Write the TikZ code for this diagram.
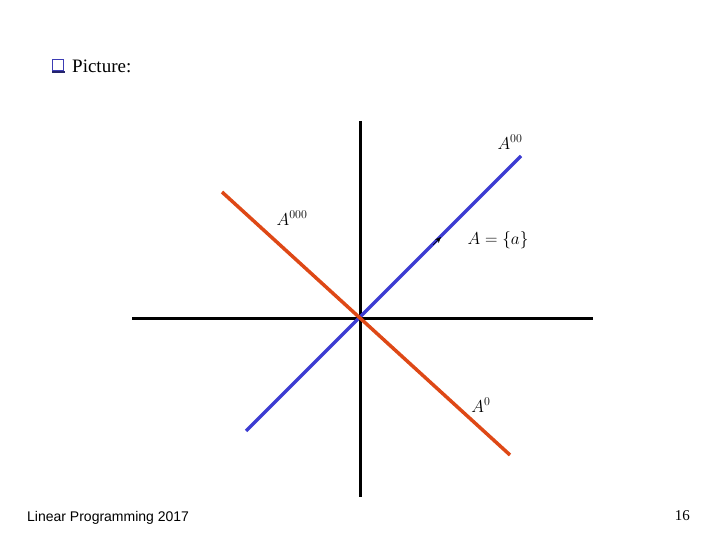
\documentclass[tikz,border=0pt]{standalone}
\usepackage{fontspec}
\setmainfont{Liberation Serif}
\newfontfamily\arialfont{Liberation Sans}
\usetikzlibrary{arrows.meta}
\definecolor{lineblue}{RGB}{60,60,210}
\definecolor{linered}{RGB}{222,72,22}
\definecolor{boxblue}{RGB}{60,60,180}
\tikzset{
  axisline/.style={line width=3pt, black},
  blueline/.style={line width=3.5pt, lineblue},
  redline/.style={line width=3.5pt, linered},
  mathlbl/.style={font=\fontsize{18}{21}\selectfont, inner sep=0pt},
}
\begin{document}
\begin{tikzpicture}[x=1pt,y=-1pt]
\useasboundingbox (0,0) rectangle (720,540);
% axes
\coordinate (vtop) at (360,121);
\coordinate (vbot) at (360,497);
\coordinate (hl) at (132,318);
\coordinate (hr) at (593,318);
\draw[axisline] (vtop) -- (vbot);
\draw[axisline] (hl) -- (hr);
% lines
\coordinate (bstart) at (246,431);
\coordinate (bend) at (521,156);
\coordinate (rstart) at (222,192);
\coordinate (rend) at (510,455);
\draw[blueline] (bstart) -- (bend);
\draw[redline] (rstart) -- (rend);
% small vector arrow
\coordinate (aa) at (433,245);
\coordinate (ab) at (441,237);
\draw[black, line width=0.6pt, -{Stealth[length=6pt,width=5pt]}] (aa) -- (ab);
% labels
\node[mathlbl] (l00) at (510,142) {$A^{00}$};
\node[mathlbl] (l000) at (292,218) {$A^{000}$};
\node[mathlbl] (la) at (498,240) {$A=\{a\}$};
\node[mathlbl] (l0) at (481,405) {$A^{0}$};
% title
\node[draw=boxblue, line width=1.3pt, fill=white, minimum size=11pt, inner sep=0pt] (cb) at (58,65) {};
\draw[boxblue!60!black, line width=2pt] ([xshift=0.5pt,yshift=-1.2pt]cb.south west) -- ([xshift=1pt,yshift=-1.2pt]cb.south east);
\node[anchor=west, font=\fontsize{19}{22}\selectfont, inner sep=0pt] (title) at (72,66) {Picture:};
% footer
\node[anchor=base west, font=\arialfont\fontsize{14}{16}\selectfont, inner sep=0pt] (foot) at (27,521) {Linear Programming 2017};
\node[anchor=base east, font=\fontsize{15}{17}\selectfont, inner sep=0pt] (pg) at (690,520) {16};
\end{tikzpicture}
\end{document}
